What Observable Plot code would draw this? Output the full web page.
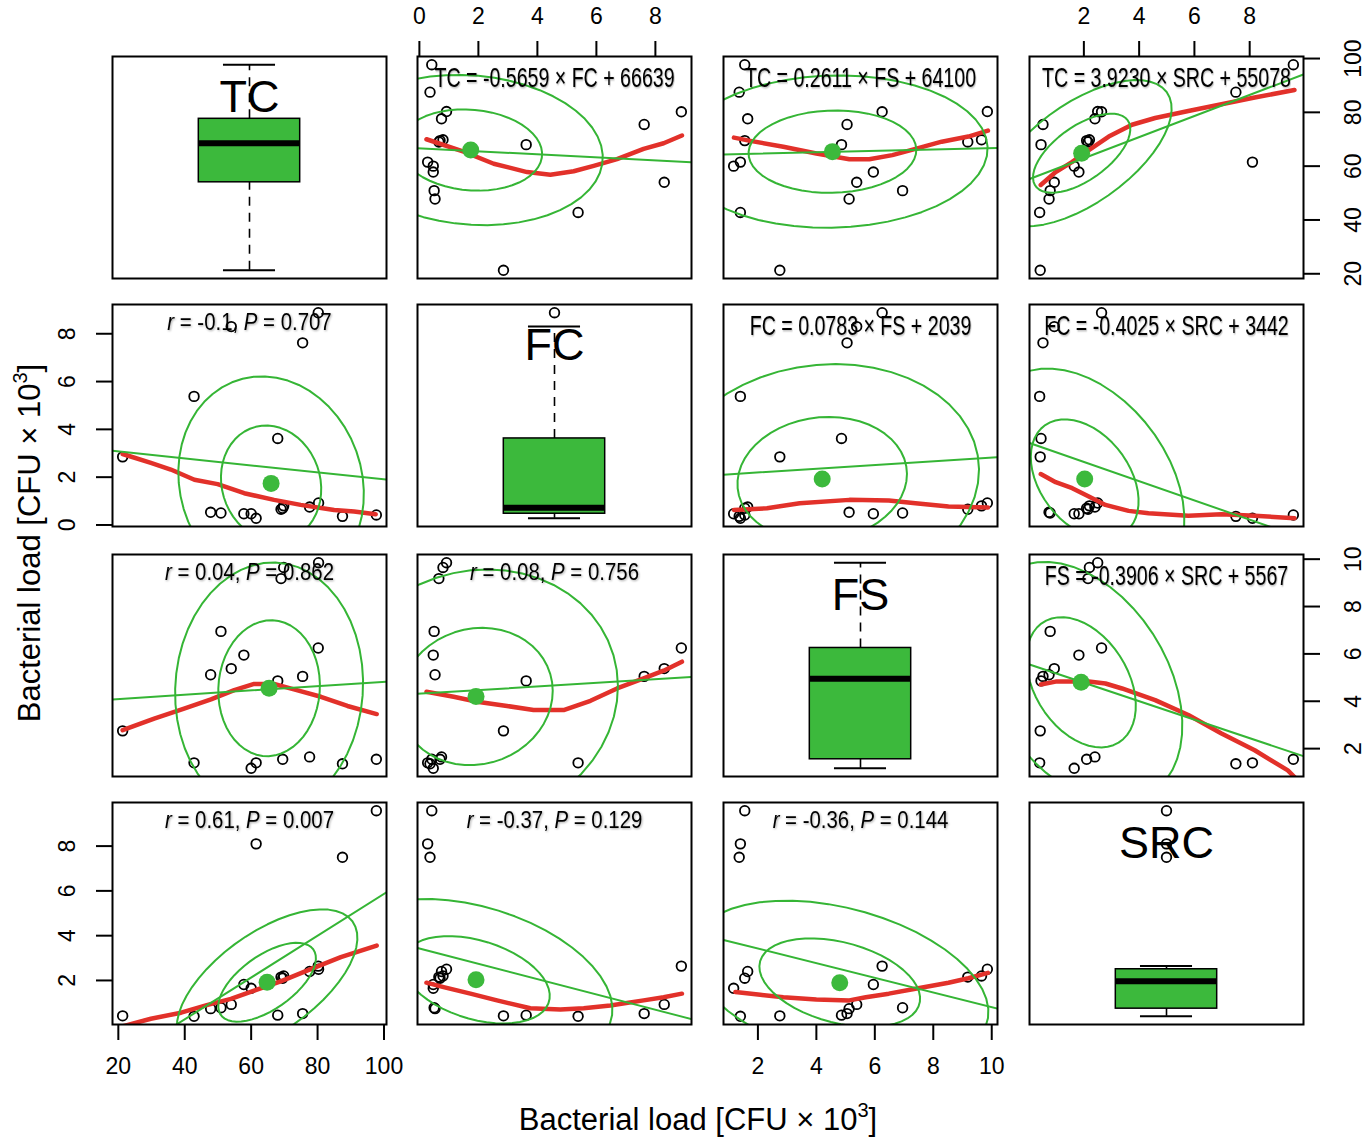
<!DOCTYPE html>
<html>
<head>
<meta charset="utf-8">
<script src="https://cdn.jsdelivr.net/npm/d3@7"></script>
<script src="https://cdn.jsdelivr.net/npm/@observablehq/plot@0.6"></script>
<style>
  html, body { margin: 0; padding: 0; background: #fff; }
  #chart { position: relative; width: 1371px; height: 1142px; overflow: hidden;
           font-family: "Liberation Sans", Arial, Helvetica, sans-serif; color: #000; }
  #chart svg { position: absolute; overflow: visible; background: transparent; max-width: none; }
  .axtitle { position: absolute; font-size: 31px; line-height: 36px; height: 36px; text-align: center; white-space: nowrap; }
  .axtitle .sup { font-size: 20px; vertical-align: 13px; line-height: 0; }
  text.shadowed { filter: drop-shadow(1.2px 1.5px 1px rgba(0,0,0,0.35)); }
</style>
</head>
<body>
<div id="chart"></div>
<script>
// ---------------- DATA ----------------
const variables = ["TC", "FC", "FS", "SRC"];
// 18 samples, bacterial load in CFU x 10^3
const TC  = [21.3, 42.8, 47.8, 50.9, 54.0, 57.8, 60.0, 61.5, 68.0, 69.5, 69.0, 69.8, 75.5, 77.6, 80.3, 80.2, 87.5, 97.7];
const FC  = [2.85, 5.38, 0.53, 0.50, 8.30, 0.47, 0.47, 0.28, 3.62, 0.70, 0.66, 0.80, 7.62, 0.75, 0.92, 8.88, 0.36, 0.42];
const FS  = [2.75, 1.40, 5.12, 6.95, 5.38, 5.95, 1.17, 1.40, 4.86, 1.55, 9.18, 9.65, 5.05, 1.65, 9.85, 6.25, 1.36, 1.55];
const SRC = [0.42, 0.40, 0.74, 0.78, 0.93, 1.82, 1.65, 8.10, 0.45, 2.10, 2.15, 2.20, 0.52, 2.40, 2.50, 2.64, 7.50, 9.58];

// tick labels
const ticksTC  = [20, 40, 60, 80, 100];
const ticksFC  = [0, 2, 4, 6, 8];
const ticksFS  = [2, 4, 6, 8, 10];
const ticksSRC = [2, 4, 6, 8];

// variable pairs (A, B): upper panel has y = A, x = B
const pairA = ["TC", "TC", "TC", "FC", "FC", "FS"];
const pairB = ["FC", "FS", "SRC", "FS", "SRC", "SRC"];
// printed regression equations (upper panels): A = slope x B + intercept
const eqSlopes     = [-0.5659, 0.2611, 3.9230, 0.0783, -0.4025, -0.3906];
const eqIntercepts = [66639, 64100, 55078, 2039, 3442, 5567];
// printed correlations (lower panels)
const corrR = [-0.1, 0.04, 0.61, 0.08, -0.37, -0.36];
const corrP = [0.707, 0.862, 0.007, 0.756, 0.129, 0.144];
// correlation ellipses: centre and scale of A and B for each pair
const ellipseCenterA = [66.0, 65.4, 64.8, 1.92, 1.92, 4.80];
const ellipseCenterB = [1.74, 4.55, 1.92, 4.20, 2.03, 1.90];
const ellipseScaleA  = [15.1, 15.3, 14.7, 2.60, 2.50, 2.75];
const ellipseScaleB  = [2.42, 2.87, 1.76, 2.90, 1.95, 1.98];
const ellipseLevels  = [1, 1.85];

// smoothed (loess) curves: [x, y], named smooth_<y>_<x>
const smooth_TC_FC  = [[0.24,70.0],[1.50,65.4],[2.52,60.9],[3.65,57.8],[4.44,56.8],[5.23,58.1],[5.91,60.1],[6.70,62.6],[7.60,66.4],[8.28,68.5],[8.90,71.4]];
const smooth_TC_FS  = [[1.18,70.6],[1.74,69.4],[2.87,67.2],[4.00,64.7],[5.13,62.6],[5.81,62.6],[6.60,64.1],[7.39,66.4],[8.29,69.1],[9.20,71.0],[9.87,73.2]];
const smooth_TC_SRC = [[0.44,53.0],[0.98,57.8],[1.58,61.6],[2.18,66.0],[2.90,71.0],[3.74,75.4],[4.58,77.9],[5.78,80.5],[6.98,83.0],[8.18,85.5],[9.62,88.3]];
const smooth_FC_TC  = [[21.3,2.97],[29.8,2.60],[35.8,2.32],[42.9,1.89],[49.9,1.71],[57.9,1.33],[66.9,1.05],[74.9,0.84],[85.0,0.63],[91.0,0.56],[97.5,0.45]];
const smooth_FC_FS  = [[1.18,0.63],[2.31,0.70],[3.43,0.91],[5.13,1.05],[6.48,1.02],[7.39,0.91],[8.52,0.77],[9.87,0.73]];
const smooth_FC_SRC = [[0.44,2.13],[0.98,1.79],[1.58,1.54],[2.18,1.19],[2.78,0.84],[3.62,0.59],[4.34,0.49],[5.78,0.39],[6.98,0.45],[8.18,0.39],[9.62,0.28]];
const smooth_FS_TC  = [[21.3,2.78],[30.8,3.27],[39.8,3.69],[47.9,4.08],[54.9,4.47],[60.9,4.73],[66.9,4.73],[72.9,4.50],[81.0,4.19],[89.0,3.80],[97.8,3.46]];
const smooth_FS_FC  = [[0.24,4.40],[1.16,4.19],[1.96,3.98],[2.97,3.80],[3.87,3.63],[4.89,3.63],[5.80,4.02],[6.70,4.54],[7.60,4.97],[8.28,5.29],[8.90,5.67]];
const smooth_FS_SRC = [[0.44,4.71],[0.98,4.83],[2.18,4.83],[2.78,4.75],[3.38,4.54],[4.58,4.05],[5.78,3.42],[6.98,2.64],[8.18,1.93],[9.38,1.08],[9.62,0.80]];
const smooth_SRC_TC = [[21.3,-0.05],[29.8,0.29],[38.9,0.56],[46.9,0.91],[53.9,1.18],[60.9,1.55],[68.9,1.96],[77.0,2.45],[87.0,3.04],[97.8,3.56]];
const smooth_SRC_FC = [[0.24,1.90],[0.82,1.70],[1.73,1.41],[2.63,1.11],[3.76,0.76],[4.78,0.70],[5.57,0.76],[6.47,0.88],[7.60,1.11],[8.28,1.25],[8.90,1.41]];
const smooth_SRC_FS = [[1.23,1.48],[2.08,1.36],[2.87,1.25],[4.00,1.15],[5.13,1.11],[5.69,1.25],[6.48,1.41],[7.39,1.63],[8.52,1.90],[9.20,2.10],[9.87,2.34]];

// ---------------- BUILD ----------------
const GREEN = "#3cb93c", GREEN_LINE = "#35b535", RED = "#e2312a";
const FONT = "Liberation Sans, Arial, Helvetica, sans-serif";
const series = [TC, FC, FS, SRC];
const ticks = [ticksTC, ticksFC, ticksFS, ticksSRC];
const smooths = {
  "TC|FC": smooth_TC_FC, "TC|FS": smooth_TC_FS, "TC|SRC": smooth_TC_SRC,
  "FC|TC": smooth_FC_TC, "FC|FS": smooth_FC_FS, "FC|SRC": smooth_FC_SRC,
  "FS|TC": smooth_FS_TC, "FS|FC": smooth_FS_FC, "FS|SRC": smooth_FS_SRC,
  "SRC|TC": smooth_SRC_TC, "SRC|FC": smooth_SRC_FC, "SRC|FS": smooth_SRC_FS
};
const samples = TC.map((_, k) => ({TC: TC[k], FC: FC[k], FS: FS[k], SRC: SRC[k]}));
const domains = series.map(s => { const [a, b] = d3.extent(s); const p = 0.04 * (b - a); return [a - p, b + p]; });

function fivenum(v) {
  const x = [...v].sort((a, b) => a - b), n = x.length;
  const n4 = Math.floor((n + 3) / 2) / 2;
  return [1, n4, (n + 1) / 2, n + 1 - n4, n].map(d => 0.5 * (x[Math.floor(d) - 1] + x[Math.ceil(d) - 1]));
}
function boxStats(v) {
  const [, h1, med, h2] = fivenum(v);
  const iqr = h2 - h1;
  const inside = v.filter(x => x >= h1 - 1.5 * iqr && x <= h2 + 1.5 * iqr);
  return {h1, med, h2, lo: d3.min(inside), hi: d3.max(inside),
          out: v.filter(x => x < h1 - 1.5 * iqr || x > h2 + 1.5 * iqr)};
}
function ellipse(cx, cy, sx, sy, r, k) {
  const th = (r !== 0 ? Math.sign(r) : 1) / Math.SQRT2;
  const a = Math.sqrt(1 + r), b = Math.sqrt(1 - r);
  const pts = [];
  for (let s = 0; s <= 51; s++) {
    const t = s * 2 * Math.PI / 51;
    const e1 = Math.cos(t) * a * th - Math.sin(t) * b * th;
    const e2 = Math.cos(t) * a * th + Math.sin(t) * b * th;
    pts.push([cx + k * sx * e1, cy + k * sy * e2]);
  }
  return pts;
}
function lsq(xs, ys) {
  const mx = d3.mean(xs), my = d3.mean(ys);
  const b = d3.sum(xs, (x, k) => (x - mx) * (ys[k] - my)) / d3.sum(xs, x => (x - mx) ** 2);
  return {slope: b, intercept: my - b * mx};
}

const W = 274, H = 222, M = 70;
const colX = [112, 417, 723, 1029];
const rowY = [56, 304, 554, 802];
const chart = document.getElementById("chart");

for (let i = 0; i < 4; i++) {
  for (let j = 0; j < 4; j++) {
    const yv = variables[i], xv = variables[j];
    const marks = [];
    if (i === j) {
      const st = boxStats(series[i]);
      marks.push(
        Plot.ruleX([st], {x: 0.5, y1: d => d.h2, y2: d => d.hi, strokeWidth: 1.6, strokeDasharray: "9,7"}),
        Plot.ruleX([st], {x: 0.5, y1: d => d.lo, y2: d => d.h1, strokeWidth: 1.6, strokeDasharray: "9,7"}),
        Plot.ruleY([st.hi, st.lo], {y: d => d, x1: 0.405, x2: 0.595, strokeWidth: 2}),
        Plot.rect([st], {x1: 0.315, x2: 0.685, y1: d => d.h1, y2: d => d.h2, fill: GREEN, stroke: "black", strokeWidth: 1.5}),
        Plot.ruleY([st.med], {y: d => d, x1: 0.315, x2: 0.685, strokeWidth: 6}),
        Plot.dot(st.out, {x: 0.5, y: d => d, r: 4.8, stroke: "black", strokeWidth: 1.8}),
        Plot.text([yv], {frameAnchor: "top", dy: 41, lineAnchor: "middle", fontSize: 45, fontFamily: FONT})
      );
    } else {
      const upper = i < j;
      const pi = upper ? pairA.findIndex((a, k) => a === yv && pairB[k] === xv)
                       : pairA.findIndex((a, k) => a === xv && pairB[k] === yv);
      // points
      marks.push(Plot.dot(samples, {x: xv, y: yv, r: 4.8, stroke: "black", strokeWidth: 1.8, fill: "none"}));
      // smoother
      marks.push(Plot.line(smooths[yv + "|" + xv], {x: d => d[0], y: d => d[1], stroke: RED, strokeWidth: 4.5, strokeLinejoin: "round", clip: true}));
      // regression line
      let slope, intercept;
      if (upper) { slope = eqSlopes[pi]; intercept = eqIntercepts[pi] / 1000; }
      else { const f = lsq(series[j], series[i]); slope = f.slope; intercept = f.intercept; }
      const xd = domains[j];
      marks.push(Plot.line(xd.map(x => [x, slope * x + intercept]), {x: d => d[0], y: d => d[1], stroke: GREEN_LINE, strokeWidth: 2, clip: true}));
      // ellipses
      const cx = upper ? ellipseCenterB[pi] : ellipseCenterA[pi];
      const cy = upper ? ellipseCenterA[pi] : ellipseCenterB[pi];
      const sx = upper ? ellipseScaleB[pi] : ellipseScaleA[pi];
      const sy = upper ? ellipseScaleA[pi] : ellipseScaleB[pi];
      for (const k of ellipseLevels) {
        marks.push(Plot.line(ellipse(cx, cy, sx, sy, corrR[pi], k), {x: d => d[0], y: d => d[1], stroke: GREEN_LINE, strokeWidth: 2, clip: true}));
      }
      marks.push(Plot.dot([[cx, cy]], {x: d => d[0], y: d => d[1], r: 8.5, fill: GREEN}));
      // label
      if (upper) {
        const s = eqSlopes[pi].toFixed(4);
        marks.push(Plot.text([`${yv} = ${s} × ${xv} + ${eqIntercepts[pi]}`],
          {frameAnchor: "top", dy: 22, lineAnchor: "middle", fontSize: 28, fontFamily: FONT, ariaLabel: () => "equation"}));
      } else {
        marks.push(Plot.text([`r = ${corrR[pi]}, P = ${corrP[pi]}`],
          {frameAnchor: "top", dy: 18, lineAnchor: "middle", fontSize: 24, fontFamily: FONT, ariaLabel: () => "correlation"}));
      }
    }
    marks.push(Plot.frame({stroke: "black", strokeWidth: 2}));
    // outer axes
    const axOpts = {tickSize: 16, fontSize: 23, strokeWidth: 2, label: null, fontFamily: FONT};
    if (i === 0 && (j === 1 || j === 3)) marks.push(Plot.axisX(ticks[j], {...axOpts, anchor: "top", tickPadding: 17}));
    if (i === 3 && (j === 0 || j === 2)) marks.push(Plot.axisX(ticks[j], {...axOpts, anchor: "bottom", tickPadding: 17}));
    if (j === 0 && (i === 1 || i === 3)) marks.push(Plot.axisY(ticks[i], {...axOpts, anchor: "left", tickRotate: -90, tickPadding: 22}));
    if (j === 3 && (i === 0 || i === 2)) marks.push(Plot.axisY(ticks[i], {...axOpts, anchor: "right", tickRotate: -90, lineAnchor: "top", tickPadding: 25}));

    const svg = Plot.plot({
      width: W + 2 * M, height: H + 2 * M,
      marginTop: M, marginBottom: M, marginLeft: M, marginRight: M,
      x: {domain: i === j ? [0, 1] : domains[j], axis: null},
      y: {domain: domains[i], axis: null},
      style: {background: "transparent", overflow: "visible", fontFamily: FONT},
      marks
    });
    svg.style.left = (colX[j] - M) + "px";
    svg.style.top = (rowY[i] - M) + "px";
    svg.style.maxWidth = "none";
    chart.appendChild(svg);

    // condensed panel labels (as in the reference), italic r / P
    const squeeze = (t, s) => {
      const tr = t.getAttribute("transform");
      if (tr) t.setAttribute("transform", tr + ` scale(${s},1)`);
      else {
        const x = +t.getAttribute("x") || 0;
        t.setAttribute("transform", `translate(${x},0) scale(${s},1) translate(${-x},0)`);
      }
      t.classList.add("shadowed");
    };
    svg.querySelectorAll('text[aria-label="equation"]').forEach(t => squeeze(t, 0.7));
    svg.querySelectorAll('text[aria-label="correlation"]').forEach(t => {
      const str = t.textContent;
      const m = str.match(/^r(.*?)P(.*)$/);
      if (m) {
        t.textContent = "";
        const ns = "http://www.w3.org/2000/svg";
        const parts = [["r", true], [m[1], false], ["P", true], [m[2], false]];
        for (const [txt, it] of parts) {
          const ts = document.createElementNS(ns, "tspan");
          ts.textContent = txt;
          if (it) ts.setAttribute("font-style", "italic");
          t.appendChild(ts);
        }
      }
      squeeze(t, 0.85);
    });
  }
}

// axis titles
const titleHTML = "Bacterial load [CFU × 10<span class=\"sup\">3</span>]";
const bt = document.createElement("div");
bt.className = "axtitle";
bt.innerHTML = titleHTML;
bt.style.left = "298px"; bt.style.width = "800px"; bt.style.top = "1102px";
chart.appendChild(bt);
const lt = document.createElement("div");
lt.className = "axtitle";
lt.innerHTML = titleHTML;
lt.style.left = (30 - 300) + "px"; lt.style.width = "600px"; lt.style.top = (543 - 18) + "px";
lt.style.transform = "rotate(-90deg)";
chart.appendChild(lt);
</script>
</body>
</html>
